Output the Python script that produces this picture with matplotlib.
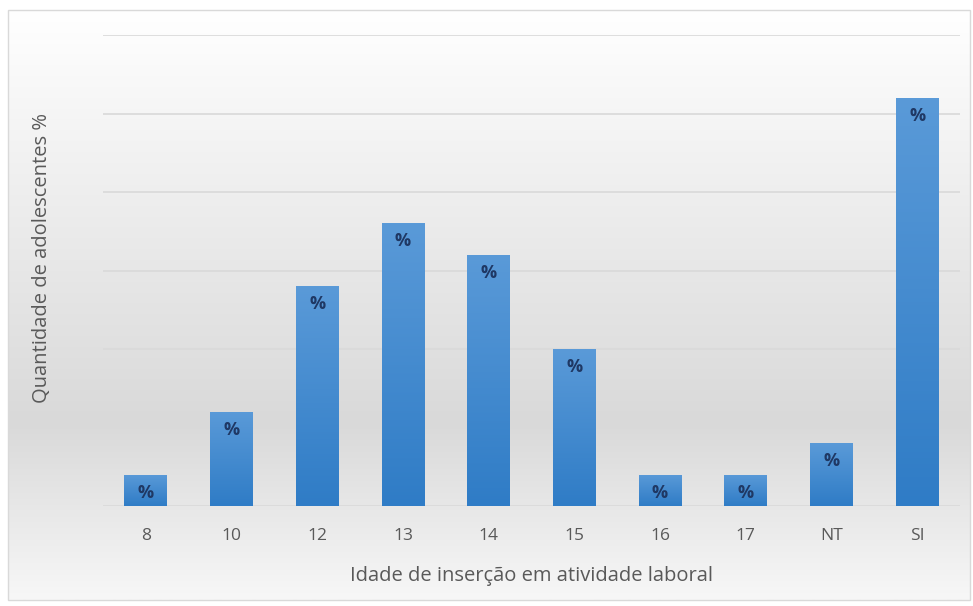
import matplotlib.pyplot as plt
import numpy as np
from matplotlib.patches import Rectangle
from matplotlib.colors import LinearSegmentedColormap

# data (gridlines every 5%)
categorias = ['8', '10', '12', '13', '14', '15', '16', '17', 'NT', 'SI']
valores = [2, 6, 14, 18, 16, 10, 2, 2, 4, 26]
rotulos = ['%'] * len(valores)

plt.rcParams['font.family'] = ['Open Sans', 'DejaVu Sans']

fig = plt.figure(figsize=(9.73, 6.06), dpi=100)

# background panel with vertical grey gradient
bg = fig.add_axes([0, 0, 1, 1], zorder=0)
bg.set_xlim(0, 973)
bg.set_ylim(606, 0)
bg.axis('off')
bg_cmap = LinearSegmentedColormap.from_list(
    'bg', [(0.0, '#ffffff'), (0.7, '#d9d9d9'), (1.0, '#f7f7f7')])
grad = np.linspace(0, 1, 256).reshape(-1, 1)
bg.imshow(grad, cmap=bg_cmap, extent=[8, 970, 600, 10], aspect='auto', zorder=0)
bg.add_patch(Rectangle((8, 10), 962, 590, fill=False, edgecolor='#d9d9d9', lw=1, zorder=1))

ax = fig.add_axes([103 / 973, 100 / 606, 857 / 973, 471 / 606], zorder=1)
ax.patch.set_alpha(0)

x = np.arange(len(categorias))
bars = ax.bar(x, valores, width=0.5, color='#4a8fd4', zorder=3)

bar_cmap = LinearSegmentedColormap.from_list('bar', ['#2f7cc6', '#5a9ad8'])
for b in bars:
    x0, w, h = b.get_x(), b.get_width(), b.get_height()
    im = ax.imshow(np.linspace(0, 1, 128).reshape(-1, 1), cmap=bar_cmap,
                   extent=[x0, x0 + w, 0, h], origin='lower', aspect='auto', zorder=4)
    im.set_clip_path(b)

for xi, v, t in zip(x, valores, rotulos):
    ax.annotate(t, (xi, v), xytext=(0, -13), textcoords='offset points',
                ha='center', va='center', fontsize=13, fontweight='bold',
                color='#1f3864', zorder=5)

ax.set_xlim(-0.5, len(categorias) - 0.5)
ax.set_ylim(0, 30)
ax.set_yticks(np.arange(0, 31, 5))
ax.set_yticklabels([])
ax.tick_params(axis='y', length=0)
ax.tick_params(axis='x', length=0, pad=16, labelsize=12.5, labelcolor='#595959')
ax.set_xticks(x)
ax.set_xticklabels(categorias)
ax.grid(axis='y', color='#d9d9d9', lw=1.2, zorder=1)
for s in ax.spines.values():
    s.set_visible(False)

ax.set_xlabel('Idade de inserção em atividade laboral', fontsize=14.5,
              color='#595959', labelpad=16)
ax.set_ylabel('Quantidade de adolescentes %', fontsize=14.5, color='#595959')
ax.yaxis.set_label_coords(-0.060, 0.527)

fig.savefig('out.png', dpi=100)
